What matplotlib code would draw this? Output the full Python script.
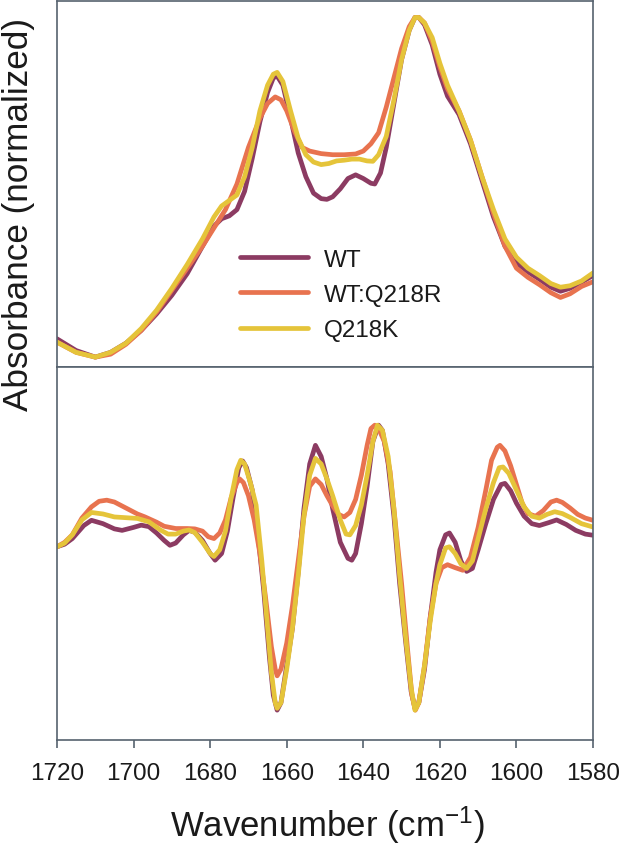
import matplotlib
matplotlib.use("Agg")
import matplotlib.pyplot as plt

plt.rcParams['font.family'] = ['Liberation Sans', 'DejaVu Sans']
plt.rcParams['mathtext.default'] = 'regular'

labels = ["WT", "WT:Q218R", "Q218K"]
colors = ["#8c3b62", "#e8734f", "#e5c43a"]

# ---- top panel: absorbance (normalized) ----
top_wt_x = [1720, 1715, 1710, 1706, 1702, 1698, 1694, 1690, 1686, 1682, 1679, 1677, 1675, 1673, 1671, 1669, 1667, 1665, 1663.5, 1662.5, 1661, 1659, 1657, 1655, 1653, 1651, 1649.5, 1648, 1646, 1644, 1642, 1640, 1638, 1637, 1635.5, 1634, 1632, 1630, 1628, 1626.5, 1625.5, 1624, 1622, 1620, 1618, 1615, 1612, 1609, 1606, 1603, 1600, 1597, 1594, 1591, 1588.5, 1586, 1583, 1580]
top_wt_y = [.077, .045, .027, .04, .065, .1, .145, .196, .255, .33, .385, .405, .413, .43, .48, .57, .67, .75, .79, .795, .77, .68, .585, .52, .475, .46, .458, .465, .487, .515, .525, .515, .502, .5, .53, .6, .72, .84, .92, .955, .955, .935, .88, .8, .74, .69, .61, .51, .41, .33, .285, .26, .24, .218, .207, .215, .232, .25]

top_r_x = [1720, 1715, 1710, 1706, 1702, 1698, 1694, 1690, 1686, 1682, 1679, 1676, 1673, 1670, 1667, 1665, 1663, 1661.5, 1660, 1658, 1656, 1654, 1651, 1648, 1645, 1642, 1640, 1638, 1636, 1634, 1632, 1630, 1628, 1626.5, 1625.5, 1624, 1622, 1620, 1618, 1615, 1612, 1609, 1606, 1603, 1600, 1597, 1594, 1591, 1588.5, 1586, 1583, 1580]
top_r_y = [.068, .04, .027, .035, .062, .1, .15, .21, .27, .33, .38, .43, .5, .6, .68, .72, .738, .73, .7, .645, .6, .59, .583, .58, .58, .582, .59, .61, .64, .71, .79, .87, .93, .955, .955, .94, .89, .82, .76, .7, .62, .52, .42, .33, .27, .245, .225, .203, .19, .2, .22, .233]

top_k_x = [1720, 1715, 1710, 1706, 1702, 1698, 1694, 1690, 1686, 1682, 1679, 1677, 1675, 1673, 1671, 1669, 1667, 1665, 1663.5, 1662.5, 1661, 1659, 1657, 1655, 1653, 1651, 1649, 1647, 1645, 1643, 1641, 1639, 1637.5, 1636, 1634, 1632, 1630, 1628, 1626.5, 1625.5, 1624, 1622, 1620, 1618, 1615, 1612, 1609, 1606, 1603, 1600, 1597, 1594, 1591, 1588.5, 1586, 1583, 1580]
top_k_y = [.068, .04, .027, .04, .065, .105, .155, .215, .28, .35, .41, .44, .455, .47, .52, .6, .7, .77, .8, .805, .78, .7, .625, .58, .56, .553, .556, .563, .565, .568, .568, .563, .562, .58, .63, .73, .84, .92, .955, .955, .94, .9, .83, .77, .7, .62, .52, .43, .35, .3, .27, .25, .228, .218, .222, .235, .257]

# ---- bottom panel: second derivative ----
bot_wt_x = [1720, 1718, 1716, 1713, 1711, 1708, 1705, 1703, 1700, 1698, 1696, 1694, 1692, 1690.5, 1689, 1687, 1685.5, 1684, 1682, 1680, 1678.7, 1677, 1675.5, 1674, 1672.5, 1671.5, 1670.5, 1669, 1667.5, 1666, 1664.5, 1663.5, 1662.5, 1661.5, 1660, 1658.5, 1657, 1655.5, 1654, 1652.5, 1651, 1649.5, 1648, 1646, 1644, 1643, 1642, 1640.5, 1639, 1637.5, 1636, 1635, 1633.5, 1632, 1630.5, 1629, 1627.5, 1626.5, 1625.5, 1624, 1622.5, 1621, 1620, 1618.5, 1617.5, 1616, 1614.5, 1613, 1611.5, 1610, 1608, 1606, 1604, 1603, 1601.5, 1600, 1598, 1596, 1594, 1591.5, 1589.5, 1587, 1584.5, 1582, 1580]
bot_wt_y = [.518, .525, .54, .575, .589, .58, .566, .562, .57, .576, .572, .555, .535, .522, .528, .55, .562, .557, .535, .5, .482, .5, .56, .65, .73, .748, .73, .67, .55, .4, .22, .12, .08, .1, .2, .3, .45, .62, .74, .79, .76, .7, .62, .53, .487, .482, .5, .58, .68, .8, .844, .83, .74, .6, .42, .27, .13, .085, .1, .19, .33, .45, .51, .55, .555, .53, .48, .452, .46, .51, .58, .645, .685, .688, .668, .635, .6, .58, .575, .583, .59, .578, .562, .552, .549]

bot_r_x = [1720, 1718, 1716, 1713.5, 1711, 1709, 1707, 1705, 1702, 1699, 1697, 1694, 1692, 1689, 1686, 1684, 1682, 1680.5, 1679, 1677.5, 1676, 1674.5, 1673, 1672.3, 1671.3, 1670, 1668.5, 1667, 1665.5, 1664, 1663, 1662.5, 1661.5, 1660, 1658.5, 1657, 1655.5, 1654, 1652.5, 1651, 1649.5, 1648, 1646.5, 1645, 1643.5, 1642, 1640.5, 1639, 1638, 1637, 1636, 1634.5, 1633, 1631.5, 1630, 1628.5, 1627.3, 1626.4, 1625.5, 1624, 1622.5, 1621, 1619.5, 1618, 1616, 1614, 1612, 1610, 1608, 1606.5, 1605, 1604.3, 1603, 1601.5, 1600, 1598.5, 1597, 1595, 1593, 1591, 1589.5, 1588, 1586, 1584, 1582, 1580]
bot_r_y = [.518, .53, .55, .595, .625, .64, .643, .638, .622, .606, .598, .584, .573, .567, .567, .566, .56, .545, .54, .555, .59, .65, .69, .70, .69, .655, .59, .5, .38, .25, .19, .172, .19, .26, .36, .48, .6, .68, .70, .685, .655, .628, .605, .598, .61, .645, .71, .79, .835, .844, .835, .8, .72, .57, .42, .25, .12, .08, .1, .2, .33, .42, .462, .47, .462, .455, .49, .57, .67, .75, .785, .79, .775, .735, .685, .635, .607, .6, .615, .638, .643, .637, .622, .605, .595, .589]

bot_k_x = [1720, 1718, 1716, 1713.5, 1711, 1708, 1705, 1702, 1699, 1696, 1693, 1691, 1689, 1687, 1685.5, 1684, 1682, 1680, 1679, 1677.5, 1676, 1674.5, 1673, 1672, 1671, 1669.5, 1668, 1666.5, 1665, 1664, 1663, 1662.5, 1661.5, 1660, 1658.5, 1657, 1655.5, 1654, 1652.5, 1651, 1649.5, 1648, 1646, 1644.5, 1643.5, 1642, 1640.5, 1639, 1637.5, 1636.3, 1635, 1633.5, 1632, 1630.5, 1629, 1627.5, 1626.5, 1625.5, 1624, 1622.5, 1621, 1620, 1618.5, 1617.5, 1616, 1614.5, 1613, 1611.5, 1610, 1608, 1606, 1604.5, 1603.5, 1602, 1600, 1598, 1596, 1594, 1592, 1590, 1588, 1586, 1583, 1580]
bot_k_y = [.518, .528, .55, .59, .61, .606, .598, .596, .594, .585, .563, .552, .552, .56, .563, .556, .53, .5, .492, .51, .56, .65, .725, .75, .74, .69, .63, .48, .3, .18, .1, .085, .1, .19, .3, .44, .6, .71, .755, .74, .7, .655, .59, .552, .55, .575, .63, .71, .8, .844, .83, .76, .62, .44, .28, .14, .08, .1, .2, .32, .42, .47, .515, .518, .5, .472, .46, .48, .54, .62, .69, .73, .732, .715, .67, .625, .6, .595, .605, .612, .607, .597, .58, .571]

top_series = [(top_wt_x, top_wt_y), (top_r_x, top_r_y), (top_k_x, top_k_y)]
bot_series = [(bot_wt_x, bot_wt_y), (bot_r_x, bot_r_y), (bot_k_x, bot_k_y)]

xticks = [1720, 1700, 1680, 1660, 1640, 1620, 1600, 1580]

frame_color = "#56626e"
fig = plt.figure(figsize=(6.23, 8.53), dpi=100)
L, R = 57 / 623, 593 / 623
ax1 = fig.add_axes([L, 1 - 368 / 853, R - L, 366 / 853])
ax2 = fig.add_axes([L, 1 - 741 / 853, R - L, 373 / 853])

for ax, series in ((ax1, top_series), (ax2, bot_series)):
    for (x, y), c, lab in zip(series, colors, labels):
        ax.plot(x, y, color=c, lw=3.4, label=lab, solid_capstyle='round', solid_joinstyle='round')
    ax.set_xlim(1720, 1580)
    ax.set_ylim(0, 1)
    ax.set_yticks([])
    for s in ax.spines.values():
        s.set_color(frame_color)
        s.set_linewidth(1.2)

ax1.set_xticks([])
ax2.set_xticks(xticks)
ax2.set_xticklabels([str(t) for t in xticks])
ax2.tick_params(axis='x', direction='out', length=6, width=1.2, color=frame_color,
                labelsize=17.5, labelcolor='#1a1a1a', pad=10)

leg = ax1.legend(loc='center left', bbox_to_anchor=(0.342, 0.197), frameon=False,
                 fontsize=17.5, handlelength=2.8, handletextpad=0.65, labelspacing=0.55,
                 borderpad=0, borderaxespad=0)
for t in leg.get_texts():
    t.set_color('#1a1a1a')

fig.text(0.030, 0.748, "Absorbance (normalized)", rotation=90, ha='center', va='center',
         fontsize=25.3, color='#1a1a1a')
fig.text(0.525, 0.033, "Wavenumber (cm$^{-1}$)", ha='center', va='center',
         fontsize=25, color='#1a1a1a')

fig.savefig("out.png", dpi=100)
